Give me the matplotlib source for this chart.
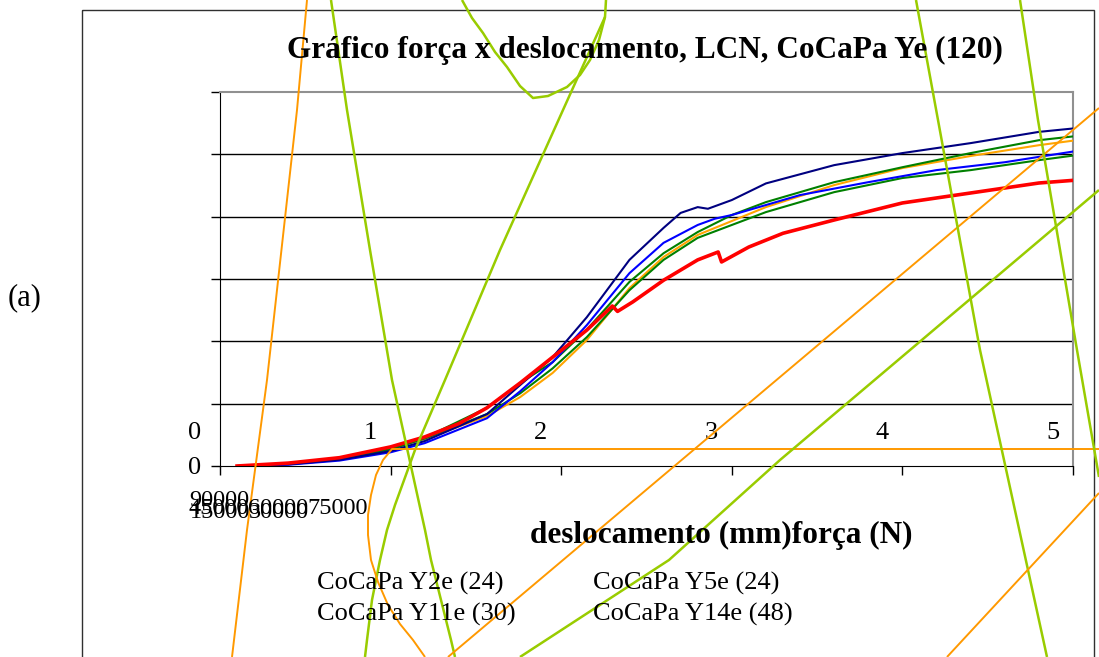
import matplotlib
matplotlib.use('Agg')
import matplotlib.pyplot as plt
import matplotlib.patches as patches
import numpy as np

plt.rcParams['font.family'] = ['Liberation Serif', 'DejaVu Serif']

# data: deslocamento (mm) vs força (N)
x_navy = [0.1, 0.4, 0.7, 1.0, 1.2, 1.565, 1.76, 1.95, 2.15, 2.4, 2.6, 2.7, 2.8, 2.86, 3.0, 3.2, 3.6, 4.0, 4.4, 4.8, 5.02]
y_navy = [0, 400, 1500, 3600, 6000, 12500, 19500, 26200, 35800, 49600, 57300, 60900, 62300, 61900, 64000, 68000, 72400, 75300, 77700, 80400, 81300]

x_blue = [0.15, 0.4, 0.7, 1.0, 1.2, 1.565, 1.76, 1.95, 2.15, 2.4, 2.6, 2.8, 2.9, 3.0, 3.4, 3.8, 4.2, 4.6, 5.02]
y_blue = [0, 300, 1300, 3300, 5500, 11500, 18000, 25000, 33900, 46400, 53700, 58000, 59500, 60400, 65200, 68300, 71200, 73100, 75800]

x_green1 = [0.1, 0.4, 0.7, 1.0, 1.2, 1.565, 1.76, 1.95, 2.15, 2.4, 2.6, 2.8, 3.0, 3.2, 3.6, 4.0, 4.4, 4.8, 5.02]
y_green1 = [0, 500, 1700, 4000, 6800, 14000, 20000, 25000, 32800, 44300, 51200, 56300, 60400, 63500, 68300, 71900, 75300, 78400, 79400]

x_green2 = [0.1, 0.4, 0.7, 1.0, 1.2, 1.565, 1.76, 1.95, 2.15, 2.4, 2.6, 2.8, 3.2, 3.6, 4.0, 4.4, 4.8, 5.02]
y_green2 = [0, 550, 1800, 4100, 6600, 12500, 17500, 23500, 31000, 42300, 49600, 54900, 61100, 65900, 69300, 71200, 73600, 74800]

x_orange = [0.1, 0.4, 0.7, 1.0, 1.2, 1.565, 1.76, 1.95, 2.15, 2.4, 2.6, 2.8, 3.2, 3.6, 4.0, 4.4, 4.8, 5.02]
y_orange = [0, 600, 1900, 4200, 6500, 12000, 16600, 22400, 30300, 42800, 50300, 55600, 62300, 67600, 71700, 74600, 77200, 78400]

x_red = [0.1, 0.4, 0.7, 1.0, 1.2, 1.4, 1.565, 1.76, 1.95, 2.15, 2.3, 2.33, 2.42, 2.6, 2.8, 2.92, 2.94, 3.1, 3.3, 3.6, 4.0, 4.4, 4.8, 5.02]
y_red = [0, 700, 2000, 4600, 7000, 10200, 14000, 20000, 26200, 32700, 38500, 37200, 39500, 44700, 49600, 51500, 49100, 52700, 56000, 59200, 63300, 65700, 68100, 68800]

x_ticks = [0, 1, 2, 3, 4, 5]
y_ticks = [0, 15000, 30000, 45000, 60000, 75000, 90000]
legend_names = ['CoCaPa Y2e (24)', 'CoCaPa Y5e (24)', 'CoCaPa Y11e (30)', 'CoCaPa Y14e (48)']

W, H = 1099, 657
fig = plt.figure(figsize=(W / 100, H / 100), dpi=100)
fig.patch.set_facecolor('white')

ax = fig.add_axes([220 / W, 1 - 466 / H, (1073 - 220) / W, (466 - 92) / H])
ax.set_xlim(0, 5)
ax.set_ylim(0, 90000)

for yv in y_ticks[1:-1]:
    ax.axhline(yv, color='black', lw=1, zorder=1)

ax.plot(x_orange, y_orange, color='#FFA500', lw=1.5, zorder=3)
ax.plot(x_green2, y_green2, color='#008000', lw=1.5, zorder=3)
ax.plot(x_green1, y_green1, color='#008000', lw=1.5, zorder=3)
ax.plot(x_blue, y_blue, color='#0000FF', lw=1.5, zorder=3)
ax.plot(x_navy, y_navy, color='#000080', lw=1.5, zorder=3)
ax.plot(x_red, y_red, color='#FF0000', lw=2.6, zorder=4)

ax.set_xticks(x_ticks)
ax.set_yticks(y_ticks)
ax.tick_params(axis='both', direction='out', length=6.5, width=1, color='black',
               labelbottom=False, labelleft=False)
ax.spines['left'].set_color('black')
ax.spines['bottom'].set_color('black')
ax.spines['top'].set_color('#909090')
ax.spines['right'].set_color('#909090')
ax.spines['top'].set_linewidth(1.5)
ax.spines['right'].set_linewidth(1.5)

# tick labels, placed the odd way the original shows them
for xv in x_ticks[1:]:
    ax.text(xv - 0.12, 8000, str(xv), fontsize=19, ha='center', va='center')
ax.text(-0.147, 8000, '0', fontsize=19, ha='center', va='center')
ax.text(-0.147, -400, '0', fontsize=19, ha='center', va='center')

# overlay in pixel coordinates
ov = fig.add_axes([0, 0, 1, 1], zorder=10)
ov.set_xlim(0, W)
ov.set_ylim(H, 0)
ov.axis('off')
ov.patch.set_alpha(0)

ov.add_patch(patches.Rectangle((82, 10), 1094 - 82, 660 - 10, fill=False,
                               edgecolor='#303030', lw=1))

ov.text(645, 50, 'Gráfico força x deslocamento, LCN, CoCaPa Ye (120)',
        fontsize=22.5, fontweight='bold', ha='center', va='center')
ov.text(721, 535, 'deslocamento (mm)força (N)', fontsize=22.5, fontweight='bold',
        ha='center', va='center')
ov.text(25, 298, '(a)', fontsize=22, ha='center', va='center')

# overlapping y tick labels dumped below the axis
ov.text(219, 501, '90000', fontsize=17.5, ha='center', va='center')
ov.text(219, 509, '45000', fontsize=17.5, ha='center', va='center')
ov.text(220, 512, '15000', fontsize=17.5, ha='center', va='center')
ov.text(278, 509, '60000', fontsize=17.5, ha='center', va='center')
ov.text(279, 512, '30000', fontsize=17.5, ha='center', va='center')
ov.text(338, 509, '75000', fontsize=17.5, ha='center', va='center')

ov.text(317, 583, legend_names[0], fontsize=19, ha='left', va='center')
ov.text(593, 583, legend_names[1], fontsize=19, ha='left', va='center')
ov.text(317, 614, legend_names[2], fontsize=19, ha='left', va='center')
ov.text(593, 614, legend_names[3], fontsize=19, ha='left', va='center')

# stray strokes from the broken original rendering
green = '#99CC00'
orange = '#FF9900'
strokes = [
    (orange, 1.4, [(307, 0), (297, 110), (267, 380), (255, 470), (247, 530), (232, 657)]),
    (green, 1.8, [(331, 0), (347, 110), (370, 250), (392, 380), (425, 530), (431, 560), (451, 640), (455, 657)]),
    (green, 1.8, [(462, 0), (472, 18), (483, 33), (495, 52), (507, 67), (520, 86), (533, 98),
                  (548, 96), (567, 87), (580, 75), (590, 60), (599, 40), (605, 17), (606, 0)]),
    (green, 1.8, [(605, 17), (563, 110), (500, 250), (445, 380), (415, 450), (395, 505), (387, 530),
                  (380, 560), (372, 600), (367, 640), (365, 657)]),
    (orange, 1.4, [(1099, 449), (392, 449), (383, 460), (376, 475), (371, 495), (368, 515), (368, 535),
                   (371, 560), (378, 582), (388, 605), (400, 624), (413, 640), (425, 657)]),
    (orange, 1.4, [(448, 657), (1099, 108)]),
    (green, 1.8, [(520, 657), (669, 560), (780, 460), (910, 350), (1099, 190)]),
    (green, 1.8, [(916, 0), (938, 120), (980, 350), (1047, 657)]),
    (green, 1.8, [(1020, 0), (1038, 120), (1077, 350), (1099, 477)]),
    (orange, 1.4, [(947, 657), (1099, 493)]),
]
for col, lw, pts in strokes:
    pts = np.array(pts)
    ov.plot(pts[:, 0], pts[:, 1], color=col, lw=lw, solid_capstyle='butt')

fig.savefig('out.png', dpi=100)
